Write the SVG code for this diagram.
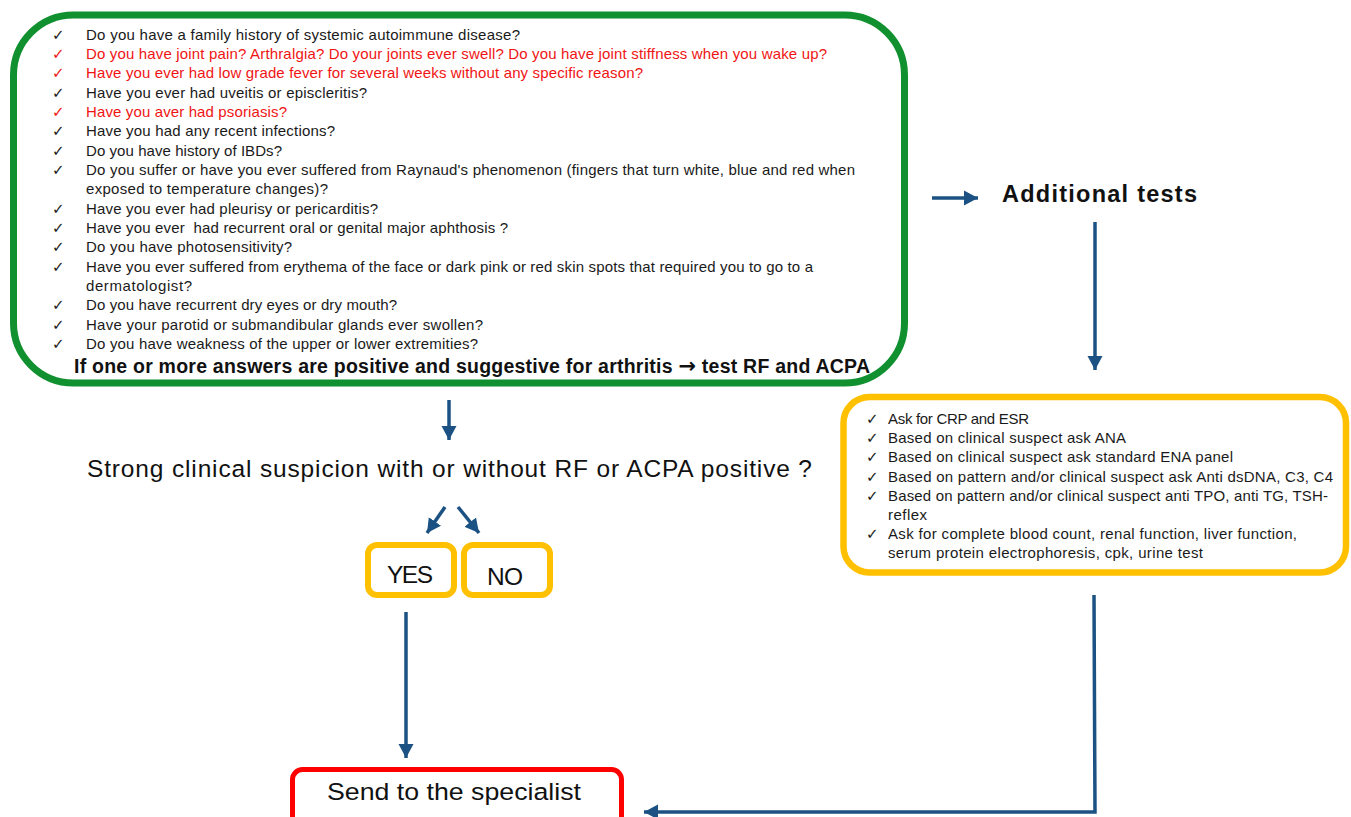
<svg xmlns="http://www.w3.org/2000/svg" width="1351" height="817" viewBox="0 0 1351 817">
<style>
.q{font-family:"Liberation Sans",Arial,sans-serif;font-size:15px;fill:#1a1a1a}
.r{fill:#f01414}
.ck{font-family:"DejaVu Sans",sans-serif;font-size:15px;fill:#1a1a1a}
.ckr{fill:#f01414}
.big{font-family:"Liberation Sans",Arial,sans-serif;font-size:24.5px;fill:#111}
.bold{font-family:"Liberation Sans",Arial,sans-serif;font-weight:bold;fill:#111}
.conn{stroke:#1b5283;stroke-width:3.5;fill:none}
</style>
<defs>
<marker id="ah" markerUnits="userSpaceOnUse" markerWidth="16" markerHeight="16" viewBox="0 0 16 16" refX="14" refY="8" orient="auto">
<path d="M0,0.5 L14,8 L0,15.5 Z" fill="#1b5283"/>
</marker>
</defs>
<rect width="1351" height="817" fill="#ffffff"/>

<g id="questions">
<rect x="13.5" y="15" width="891" height="368" rx="60" ry="60" fill="#fff" stroke="#10902e" stroke-width="7"/>
<g class="ck">
<text x="52" y="39.5">✓</text>
<text x="52" y="58.8" class="ckr">✓</text>
<text x="52" y="78.1" class="ckr">✓</text>
<text x="52" y="97.5">✓</text>
<text x="52" y="116.8" class="ckr">✓</text>
<text x="52" y="136.1">✓</text>
<text x="52" y="155.5">✓</text>
<text x="52" y="174.8">✓</text>
<text x="52" y="213.5">✓</text>
<text x="52" y="232.8">✓</text>
<text x="52" y="252.1">✓</text>
<text x="52" y="271.5">✓</text>
<text x="52" y="310.1">✓</text>
<text x="52" y="329.5">✓</text>
<text x="52" y="348.8">✓</text>
</g>
<text class="q" x="86" y="39.5" textLength="434">Do you have a family history of systemic autoimmune disease?</text>
<text class="q r" x="86" y="58.8" textLength="741">Do you have joint pain? Arthralgia? Do your joints ever swell? Do you have joint stiffness when you wake up?</text>
<text class="q r" x="86" y="78.1" textLength="557">Have you ever had low grade fever for several weeks without any specific reason?</text>
<text class="q" x="86" y="97.5" textLength="281">Have you ever had uveitis or episcleritis?</text>
<text class="q r" x="86" y="116.8" textLength="201">Have you aver had psoriasis?</text>
<text class="q" x="86" y="136.1" textLength="249">Have you had any recent infections?</text>
<text class="q" x="86" y="155.5" textLength="196">Do you have history of IBDs?</text>
<text class="q" x="86" y="174.8" textLength="769">Do you suffer or have you ever suffered from Raynaud's phenomenon (fingers that turn white, blue and red when</text>
<text class="q" x="86" y="194.1" textLength="242">exposed to temperature changes)?</text>
<text class="q" x="86" y="213.5" textLength="292">Have you ever had pleurisy or pericarditis?</text>
<text class="q" x="86" y="232.8" textLength="422" xml:space="preserve">Have you ever  had recurrent oral or genital major aphthosis ?</text>
<text class="q" x="86" y="252.1" textLength="206">Do you have photosensitivity?</text>
<text class="q" x="86" y="271.5" textLength="727">Have you ever suffered from erythema of the face or dark pink or red skin spots that required you to go to a</text>
<text class="q" x="86" y="290.8" textLength="106">dermatologist?</text>
<text class="q" x="86" y="310.1" textLength="311">Do you have recurrent dry eyes or dry mouth?</text>
<text class="q" x="86" y="329.5" textLength="397">Have your parotid or submandibular glands ever swollen?</text>
<text class="q" x="86" y="348.8" textLength="392">Do you have weakness of the upper or lower extremities?</text>
<text class="bold" x="74" y="373" font-size="19.5" textLength="796">If one or more answers are positive and suggestive for arthritis <tspan font-family="DejaVu Sans, sans-serif" font-weight="bold" font-size="21">→</tspan> test RF and ACPA</text>
</g>

<g id="additional-tests-label">
<text class="bold" x="1002" y="202" font-size="23.5" textLength="195">Additional tests</text>
</g>

<g id="tests">
<rect x="843.5" y="397" width="502.5" height="175.5" rx="26" ry="26" fill="#fff" stroke="#ffc000" stroke-width="6.5"/>
<g class="ck">
<text x="866" y="424">✓</text>
<text x="866" y="443.2">✓</text>
<text x="866" y="462.4">✓</text>
<text x="866" y="481.6">✓</text>
<text x="866" y="500.8">✓</text>
<text x="866" y="539.2">✓</text>
</g>
<text class="q" x="888" y="424" textLength="141">Ask for CRP and ESR</text>
<text class="q" x="888" y="443.2" textLength="238">Based on clinical suspect ask ANA</text>
<text class="q" x="888" y="462.4" textLength="345">Based on clinical suspect ask standard ENA panel</text>
<text class="q" x="888" y="481.6" textLength="445">Based on pattern and/or clinical suspect ask Anti dsDNA, C3, C4</text>
<text class="q" x="888" y="500.8" textLength="440">Based on pattern and/or clinical suspect anti TPO, anti TG, TSH-</text>
<text class="q" x="888" y="520" textLength="39">reflex</text>
<text class="q" x="888" y="539.2" textLength="409">Ask for complete blood count, renal function, liver function,</text>
<text class="q" x="888" y="558.4" textLength="315">serum protein electrophoresis, cpk, urine test</text>
</g>

<g id="question-label">
<text class="big" x="87" y="477" textLength="725">Strong clinical suspicion with or without RF or ACPA positive ?</text>
</g>

<g id="yes">
<rect x="368" y="545" width="86" height="50" rx="9" ry="9" fill="#fff" stroke="#ffc000" stroke-width="6"/>
<text class="big" x="387" y="583" textLength="46">YES</text>
</g>
<g id="no">
<rect x="464" y="545" width="86" height="50" rx="9" ry="9" fill="#fff" stroke="#ffc000" stroke-width="6"/>
<text class="big" x="487" y="585" textLength="36">NO</text>
</g>

<g id="specialist">
<rect x="292.5" y="769.5" width="329" height="70" rx="10" ry="10" fill="#fff" stroke="#ff0000" stroke-width="5"/>
<text class="big" x="327" y="800" textLength="254" lengthAdjust="spacingAndGlyphs">Send to the specialist</text>
</g>

<g id="connectors">
<line class="conn" x1="932" y1="198" x2="978" y2="198" marker-end="url(#ah)"/>
<line class="conn" x1="1095" y1="222" x2="1095" y2="370" marker-end="url(#ah)"/>
<line class="conn" x1="449" y1="400" x2="449" y2="440" marker-end="url(#ah)"/>
<line class="conn" x1="445" y1="507" x2="427" y2="533" marker-end="url(#ah)"/>
<line class="conn" x1="458" y1="507" x2="479" y2="533" marker-end="url(#ah)"/>
<line class="conn" x1="406" y1="612" x2="406" y2="758" marker-end="url(#ah)"/>
<polyline class="conn" stroke-width="3" points="1094,595 1095,812 644,812" marker-end="url(#ah)"/>
</g>
</svg>
